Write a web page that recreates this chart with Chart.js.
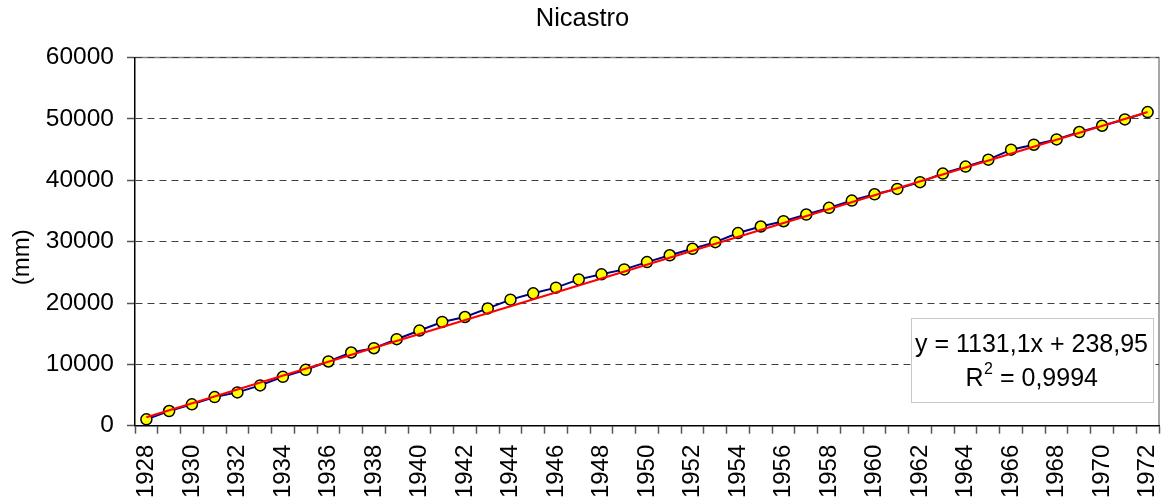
<!DOCTYPE html>
<html>
<head>
<meta charset="utf-8">
<title>Nicastro</title>
<script src="https://cdn.jsdelivr.net/npm/chart.js@4.4.1/dist/chart.umd.min.js"></script>
<style>
  html, body { margin: 0; padding: 0; background: #ffffff; }
  #wrap { width: 1166px; height: 499px; }
</style>
</head>
<body>
<div id="wrap"><canvas id="chart" width="1166" height="499"></canvas></div>
<script>
// Years on the category axis
const years = [
  '1928','1929','1930','1931','1932','1933','1934','1935','1936','1937',
  '1938','1939','1940','1941','1942','1943','1944','1945','1946','1947',
  '1948','1949','1950','1951','1952','1953','1954','1955','1956','1957',
  '1958','1959','1960','1961','1962','1963','1964','1965','1966','1967',
  '1968','1969','1970','1971','1972'
];

// Cumulative rainfall (mm)
const cumulative = [
  1040, 2390, 3480, 4670, 5430, 6570, 7970, 9110, 10470, 11930,
  12630, 14100, 15510, 16910, 17720, 19120, 20550, 21580, 22500, 23850,
  24670, 25480, 26670, 27780, 28840, 29920, 31400, 32470, 33330, 34420,
  35510, 36700, 37720, 38600, 39700, 41100, 42230, 43370, 44990, 45800,
  46670, 47870, 48890, 49920, 51120
];

// Value axis ticks
const yTicks = [0, 10000, 20000, 30000, 40000, 50000, 60000];

// Linear trend: y = slope * n + intercept, n = 1 for the first year
const trendSlope = 1131.1;
const trendIntercept = 238.95;
const trendR2 = 0.9994;

const FONT = "'Liberation Sans', Arial, Helvetica, sans-serif";
Chart.defaults.font.family = FONT;
Chart.defaults.color = '#000000';

const trendAt = n => trendSlope * n + trendIntercept;
const trendPoints = [
  { x: years[0], y: trendAt(1) },
  { x: years[years.length - 1], y: trendAt(years.length) }
];

const comma = v => String(v).replace('.', ',');

// White background plus the grey top/right frame of the plot area
const framePlugin = {
  id: 'frame',
  beforeDraw(chart) {
    const { ctx, chartArea: a } = chart;
    ctx.save();
    ctx.fillStyle = '#ffffff';
    ctx.fillRect(0, 0, chart.width, chart.height);
    ctx.strokeStyle = '#8a8a8a';
    ctx.lineWidth = 1.5;
    ctx.beginPath();
    ctx.moveTo(a.left, a.top);
    ctx.lineTo(a.right, a.top);
    ctx.lineTo(a.right, a.bottom);
    ctx.stroke();
    ctx.restore();
  }
};

// Vertical axis caption
const yCaptionPlugin = {
  id: 'yCaption',
  afterDraw(chart) {
    const { ctx, chartArea: a } = chart;
    ctx.save();
    ctx.translate(a.left - 112.5, (a.top + a.bottom) / 2 + 15.5);
    ctx.rotate(-Math.PI / 2);
    ctx.font = '24px ' + FONT;
    ctx.fillStyle = '#000000';
    ctx.textAlign = 'center';
    ctx.textBaseline = 'middle';
    ctx.fillText('(mm)', 0, 0);
    ctx.restore();
  }
};

// Trend equation box
const trendBoxPlugin = {
  id: 'trendBox',
  afterDatasetsDraw(chart) {
    const { ctx, chartArea: a } = chart;
    const left = a.right - 248.3, right = a.right - 6.7;
    const top = a.bottom - 108, bottom = a.bottom - 24;
    const cx = (left + right) / 2;
    ctx.save();
    ctx.fillStyle = '#ffffff';
    ctx.fillRect(left, top, right - left, bottom - top);
    ctx.strokeStyle = '#c8c8c8';
    ctx.lineWidth = 1;
    ctx.strokeRect(Math.round(left) + 0.5, Math.round(top) + 0.5, Math.round(right - left), Math.round(bottom - top));

    ctx.fillStyle = '#000000';
    ctx.textBaseline = 'alphabetic';
    ctx.font = '25px ' + FONT;
    ctx.textAlign = 'center';
    ctx.fillText('y = ' + comma(trendSlope) + 'x + ' + comma(trendIntercept), cx, a.bottom - 74);

    // R² line with a raised "2"
    const main = '25px ' + FONT, sup = '16px ' + FONT;
    const rest = ' = ' + comma(trendR2);
    ctx.font = main;
    const wR = ctx.measureText('R').width;
    const wRest = ctx.measureText(rest).width;
    ctx.font = sup;
    const w2 = ctx.measureText('2').width;
    let x = cx - (wR + w2 + wRest) / 2;
    const base = a.bottom - 39.7;
    ctx.textAlign = 'left';
    ctx.font = main;
    ctx.fillText('R', x, base);
    x += wR + 0.5;
    ctx.font = sup;
    ctx.fillText('2', x, base - 12);
    x += w2;
    ctx.font = main;
    ctx.fillText(rest, x, base);
    ctx.restore();
  }
};

new Chart(document.getElementById('chart'), {
  type: 'line',
  data: {
    labels: years,
    datasets: [
      {
        label: 'Lineare (Nicastro)',
        data: trendPoints,
        borderColor: '#ff0000',
        borderWidth: 2,
        pointRadius: 0,
        fill: false,
        tension: 0,
        order: 0
      },
      {
        label: 'Nicastro',
        data: cumulative,
        borderColor: '#000080',
        borderWidth: 2,
        pointRadius: 5.5,
        pointBackgroundColor: '#ffff00',
        pointBorderColor: '#000000',
        pointBorderWidth: 1.5,
        fill: false,
        tension: 0,
        order: 1
      }
    ]
  },
  options: {
    responsive: false,
    animation: false,
    events: [],
    devicePixelRatio: 1,
    layout: { padding: { left: 5, right: 6, top: 0, bottom: 0 } },
    plugins: {
      legend: { display: false },
      tooltip: { enabled: false },
      title: {
        display: true,
        text: 'Nicastro',
        color: '#000000',
        font: { size: 25.5, weight: 'normal' },
        padding: { top: 4, bottom: 23 }
      }
    },
    scales: {
      x: {
        offset: true,
        afterFit(scale) {
          scale.paddingLeft = 0;
          scale.paddingRight = 0;
          scale.height = 73.3;
        },
        grid: {
          offset: true,
          drawOnChartArea: false,
          drawTicks: true,
          tickLength: 8,
          tickColor: '#555555',
          tickWidth: 1.5
        },
        border: { display: true, color: '#000000', width: 1.5 },
        ticks: {
          autoSkip: false,
          minRotation: 90,
          maxRotation: 90,
          padding: 11,
          color: '#000000',
          font: { size: 24 },
          callback: (v, i) => (i % 2 === 0 ? years[i] : '')
        }
      },
      y: {
        min: yTicks[0],
        max: yTicks[yTicks.length - 1],
        afterBuildTicks(scale) { scale.ticks = yTicks.map(v => ({ value: v })); },
        afterFit(scale) { scale.width = 130; },
        grid: {
          color: '#404040',
          lineWidth: 1,
          tickLength: 8,
          tickColor: '#555555',
          tickWidth: 1.5,
          tickBorderDash: []
        },
        border: { display: true, color: '#000000', width: 1.5, dash: [7, 5] },
        ticks: {
          padding: 13,
          color: '#000000',
          font: { size: 24.5 },
          callback: v => String(v)
        }
      }
    }
  },
  plugins: [framePlugin, yCaptionPlugin, trendBoxPlugin]
});
</script>
</body>
</html>
